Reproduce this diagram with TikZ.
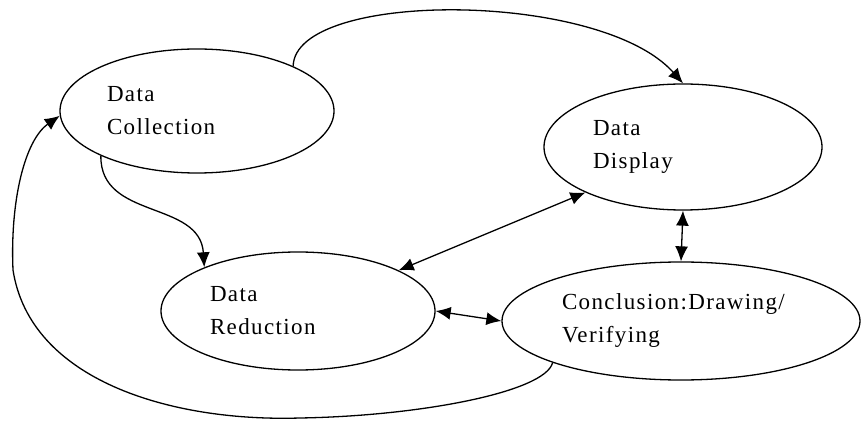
\documentclass[tikz,border=0pt]{standalone}
\usepackage{fontspec}
\setmainfont{Liberation Serif}
\usetikzlibrary{shapes.geometric,arrows.meta}

\tikzset{
	every picture/.append style={line width=1.3pt,x=1pt,y=-1pt},
	stagenode/.style = {ellipse, draw=black, align=left, inner sep=2pt,
		font=\fontsize{23}{33}\selectfont\addfontfeatures{LetterSpace=6}},
	myedge/.style = {draw=black,-{Latex[length=15pt,width=13pt]}},
	myedgeb/.style = {draw=black,{Latex[length=15pt,width=13pt]}-{Latex[length=15pt,width=13pt]}}
}

\begin{document}
\begin{tikzpicture}
				\useasboundingbox (0,0) rectangle (861,427);
				\node[stagenode, minimum width=274pt, minimum height=124pt, text width=180pt] at (197,111) (col) {Data\\Collection};
				\node[stagenode, minimum width=278pt, minimum height=126pt, text width=180pt] at (683,147) (disp) {Data\\Display};
				\node[stagenode, minimum width=274pt, minimum height=118pt, text width=176pt] at (298,311) (red) {Data\\Reduction};
				\node[stagenode, minimum width=358pt, minimum height=118pt, text width=238pt] at (681,321) (con) {Conclusion:Drawing/\\Verifying};
				\draw[myedge] (col.25) .. controls (295,-10) and (600,-10) .. (disp.north);
				\draw[myedge] (col.205) .. controls (100,220) and (200,200) .. (red.155);
				\path (disp.205) edge [myedgeb] (red.22);
				\path (disp.south) edge [myedgeb] (con.north);
				\path (red.east) edge [myedgeb] (con.west);
				\draw[myedge] (con.198) .. controls (545,392) and (420,416) .. (300,418)
					.. controls (170,422) and (30,380) .. (13,270)
					.. controls (10,200) and (25,140) .. (col.182);
			\end{tikzpicture}
\end{document}
